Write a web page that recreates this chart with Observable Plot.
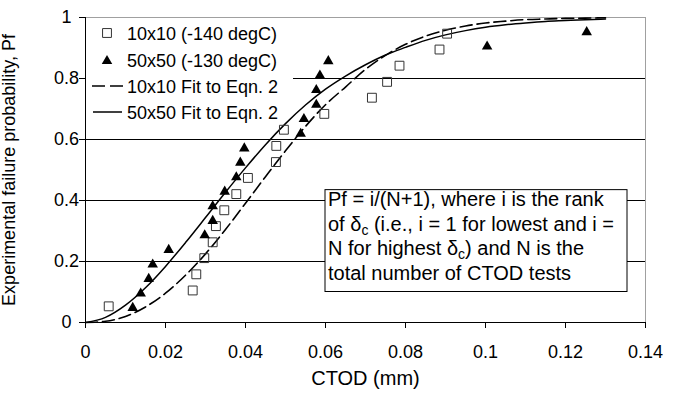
<!DOCTYPE html>
<html>
<head>
<meta charset="utf-8">
<script src="https://cdn.jsdelivr.net/npm/d3@7"></script>
<script src="https://cdn.jsdelivr.net/npm/@observablehq/plot@0.6"></script>
<style>
  html, body { margin: 0; padding: 0; background: white; }
  #chart { width: 674px; height: 394px; }
</style>
</head>
<body>
<div id="chart"></div>
<script>
// ---- data ----
// 10x10 (-140 degC) specimens: CTOD (mm) and rank probability
const ctod10 = [0.0058,0.0268,0.0277,0.0297,0.0318,0.0326,0.0347,0.0377,0.0406,0.0476,0.0477,0.0496,0.0597,0.0716,0.0754,0.0785,0.0885,0.0904];
const pf10   = [0.053,0.105,0.158,0.211,0.263,0.316,0.368,0.421,0.474,0.526,0.579,0.632,0.684,0.737,0.789,0.842,0.895,0.947];
// 50x50 (-130 degC) specimens
const ctod50 = [0.0118,0.0138,0.0158,0.0168,0.0208,0.0298,0.0318,0.0318,0.0348,0.0377,0.0387,0.0397,0.0538,0.0546,0.0577,0.0577,0.0586,0.0607,0.1004,0.1253];
const pf50   = [0.048,0.095,0.143,0.190,0.238,0.286,0.333,0.381,0.429,0.476,0.524,0.571,0.619,0.667,0.714,0.762,0.810,0.857,0.905,0.952];
// fitted curves
const fitX   = [0,0.005,0.01,0.015,0.02,0.025,0.03,0.035,0.04,0.045,0.05,0.055,0.06,0.065,0.07,0.075,0.08,0.085,0.09,0.095,0.1,0.105,0.11,0.115,0.12,0.125,0.13];
const fit10Y = [0,0.004,0.020,0.051,0.096,0.155,0.225,0.305,0.391,0.478,0.563,0.643,0.714,0.772,0.830,0.876,0.912,0.939,0.958,0.972,0.982,0.988,0.993,0.995,0.997,0.998,0.999];
const fit50Y = [0,0.017,0.057,0.114,0.184,0.262,0.344,0.427,0.507,0.583,0.652,0.713,0.765,0.808,0.845,0.877,0.902,0.925,0.943,0.957,0.968,0.976,0.982,0.987,0.990,0.993,0.995];

const xTicks = [0,0.02,0.04,0.06,0.08,0.1,0.12,0.14];
const xTickLabels = ["0","0.02","0.04","0.06","0.08","0.1","0.12","0.14"];
const yTicks = [0,0.2,0.4,0.6,0.8,1];
const yTickLabels = ["0","0.2","0.4","0.6","0.8","1"];
const yGrid = [0.2,0.4,0.6,0.8];

const legendLabels = ["10x10 (-140 degC)","50x50 (-130 degC)","10x10 Fit to Eqn. 2","50x50 Fit to Eqn. 2"];
const noteLines = [
  [["Pf = i/(N+1), where i is the rank", false]],
  [["of δ", false],["c", true],[" (i.e., i = 1 for lowest and i =", false]],
  [["N for highest δ", false],["c", true],[") and N is the", false]],
  [["total number of CTOD tests", false]]
];
const xTitle = "CTOD (mm)";
const yTitle = "Experimental failure probability, Pf";

(function () {
// ---- tables ----
const d10 = ctod10.map((x,i)=>({x, y: pf10[i]}));
const d50 = ctod50.map((x,i)=>({x, y: pf50[i]}));
const f10 = fitX.map((x,i)=>({x, y: fit10Y[i]}));
const f50 = fitX.map((x,i)=>({x, y: fit50Y[i]}));
const legendBox = [{x1: 0, x2: 0.052, y1: 0.646, y2: 1}];
const noteBox = [{x1: 0.06, x2: 0.1355, y1: 0.1, y2: 0.434}];

const FONT = "'Liberation Sans', Arial, Helvetica, sans-serif";

const plot = Plot.plot({
  width: 674,
  height: 394,
  marginLeft: 85,
  marginRight: 29,
  marginTop: 17,
  marginBottom: 72,
  style: {fontFamily: FONT, fontSize: "18px", color: "black", background: "white", overflow: "visible"},
  x: {domain: [0, 0.14]},
  y: {domain: [0, 1]},
  marks: [
    Plot.ruleY(yGrid, {stroke: "black", strokeWidth: 1}),
    Plot.rect(legendBox, {x1: "x1", x2: "x2", y1: "y1", y2: "y2", fill: "white"}),
    Plot.rect(noteBox, {x1: "x1", x2: "x2", y1: "y1", y2: "y2", fill: "white", stroke: "black", strokeWidth: 1}),
    Plot.ruleY([1], {stroke: "#a0a0a0", strokeWidth: 1}),
    Plot.ruleX([0.14], {stroke: "#a0a0a0", strokeWidth: 1}),
    Plot.line(f10, {x: "x", y: "y", stroke: "black", strokeWidth: 1.6, strokeDasharray: "12,5", curve: "monotone-x"}),
    Plot.line(f50, {x: "x", y: "y", stroke: "black", strokeWidth: 1.5, curve: "monotone-x"}),
    Plot.dot(d10, {x: "x", y: "y", symbol: "square", r: 5, stroke: "#333", strokeWidth: 1, fill: "none"}),
    Plot.dot(d50, {x: "x", y: "y", symbol: "triangle", r: 3.9, fill: "black", stroke: "none"}),
    Plot.ruleX([0], {stroke: "black", strokeWidth: 1}),
    Plot.ruleY([0], {stroke: "black", strokeWidth: 1}),
    Plot.axisX({ticks: xTicks, tickFormat: (d, i) => xTickLabels[i], tickSize: 6, tickPadding: 17, label: null, fontSize: 18, stroke: "black"}),
    Plot.axisY({ticks: yTicks, tickFormat: (d, i) => yTickLabels[i], tickSize: 6, tickPadding: 13, textAnchor: "middle", label: null, fontSize: 18, stroke: "black"}),
    Plot.text([xTitle], {frameAnchor: "bottom", dy: 62, fontSize: 20, fill: "black"}),
    Plot.text([yTitle], {frameAnchor: "left", textAnchor: "middle", rotate: -90, dx: -76, fontSize: 18, fill: "black"})
  ]
});
document.getElementById("chart").appendChild(plot);

// ---- legend and note (annotations) ----
const svg = d3.select(plot);
const xs = plot.scale("x"), ys = plot.scale("y");
const frameLeft = xs.apply(0);

const lg = svg.append("g").attr("font-family", FONT).attr("font-size", 18).attr("text-anchor", "start");
const rowY = [33, 60, 86, 112]; // row centers (px)
const mx = frameLeft + 22;
lg.append("path").attr("d", d3.symbol(d3.symbolSquare, 25 * Math.PI)())
  .attr("transform", `translate(${mx},${rowY[0]})`).attr("fill", "none").attr("stroke", "#333");
lg.append("path").attr("d", d3.symbol(d3.symbolTriangle, 3.9 * 3.9 * Math.PI)())
  .attr("transform", `translate(${mx},${rowY[1] + 1})`).attr("fill", "black");
lg.append("line").attr("x1", frameLeft + 7).attr("x2", frameLeft + 38).attr("y1", rowY[2]).attr("y2", rowY[2])
  .attr("stroke", "black").attr("stroke-width", 1.6).attr("stroke-dasharray", "13,5");
lg.append("line").attr("x1", frameLeft + 8).attr("x2", frameLeft + 37).attr("y1", rowY[3]).attr("y2", rowY[3])
  .attr("stroke", "black").attr("stroke-width", 1.5);
legendLabels.forEach((t, i) => {
  lg.append("text").attr("x", frameLeft + 42).attr("y", rowY[i] + 6.5).attr("fill", "black").text(t);
});

const ng = svg.append("g").attr("font-family", FONT).attr("font-size", 20).attr("fill", "black").attr("text-anchor", "start");
const nx = xs.apply(noteBox[0].x1) + 3;
const ny0 = ys.apply(noteBox[0].y2) + 16.8;
noteLines.forEach((parts, i) => {
  const t = ng.append("text").attr("x", nx).attr("y", ny0 + i * 24.5);
  let prevSub = false;
  parts.forEach(([s, sub]) => {
    if (sub) {
      t.append("tspan").attr("font-size", 14).attr("dy", 4).text(s);
    } else {
      t.append("tspan").attr("dy", prevSub ? -4 : 0).text(s);
    }
    prevSub = sub;
  });
});
})();
</script>
</body>
</html>
